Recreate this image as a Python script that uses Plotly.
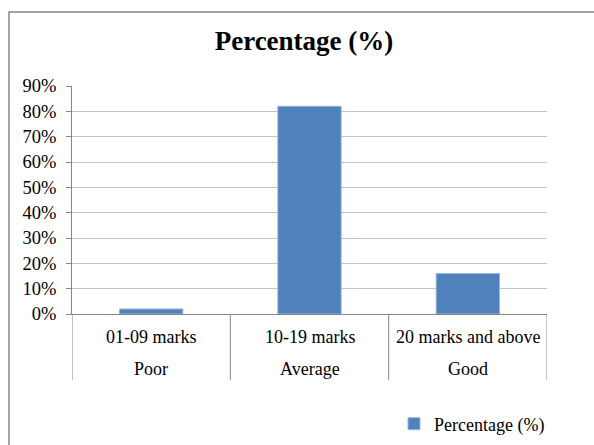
import plotly.graph_objects as go

# Marks distribution data
mark_ranges = ["01-09 marks", "10-19 marks", "20 marks and above"]
grades = ["Poor", "Average", "Good"]
percentages = [0.02, 0.82, 0.16]
series_name = "Percentage (%)"
y_ticks = [0, 0.1, 0.2, 0.3, 0.4, 0.5, 0.6, 0.7, 0.8, 0.9]

SERIF = "Liberation Serif, Times New Roman, serif"
AXIS_GREY = "#868686"
GRID_GREY = "#c4c4c4"

fig = go.Figure()
fig.add_trace(go.Bar(
    x=mark_ranges,
    y=percentages,
    name=series_name,
    width=0.4,
    marker=dict(color="#4F81BD", line=dict(color="#9ab7dc", width=1)),
    showlegend=True,
))

W, H = 594, 445
L, R, T, B = 72, 47, 86, 131
plot_w = W - L - R
plot_h = H - T - B


def px_x(px):
    return (px - L) / plot_w


def px_y(py):
    return (H - B - py) / plot_h


shapes = []
# outer chart-area frame
shapes.append(dict(type="rect", xref="paper", yref="paper",
                   x0=px_x(9), x1=px_x(620), y0=px_y(470), y1=px_y(12),
                   line=dict(color=AXIS_GREY, width=1.5), fillcolor="rgba(0,0,0,0)",
                   layer="below"))
# category dividers running down through both label rows
for i in range(len(mark_ranges) + 1):
    shapes.append(dict(type="line", xref="x", yref="paper",
                       x0=i - 0.5, x1=i - 0.5, y0=0, y1=px_y(380),
                       line=dict(color=AXIS_GREY, width=1)))

annotations = []
for cat, grade in zip(mark_ranges, grades):
    annotations.append(dict(x=cat, xref="x", yref="paper", y=px_y(337),
                            text=cat, showarrow=False, yanchor="middle",
                            font=dict(family=SERIF, size=18, color="black")))
    annotations.append(dict(x=cat, xref="x", yref="paper", y=px_y(369),
                            text=grade, showarrow=False, yanchor="middle",
                            font=dict(family=SERIF, size=18, color="black")))

fig.update_layout(
    width=W, height=H,
    margin=dict(l=L, r=R, t=T, b=B, autoexpand=False),
    paper_bgcolor="white",
    plot_bgcolor="white",
    bargap=0.6,
    title=dict(text="<b>Percentage (%)</b>", x=304 / W, xanchor="center",
               y=1 - 41 / H, yanchor="middle",
               font=dict(family=SERIF, size=27, color="black")),
    xaxis=dict(
        showticklabels=False,
        showline=True, linecolor=AXIS_GREY, linewidth=1,
        ticks="", showgrid=False, zeroline=False,
        range=[-0.5, 2.5],
    ),
    yaxis=dict(
        range=[0, 0.9],
        tickvals=y_ticks,
        tickformat=".0%",
        showline=True, linecolor=AXIS_GREY, linewidth=1,
        ticks="outside", ticklen=5, tickcolor=AXIS_GREY,
        ticklabelstandoff=6,
        showgrid=True, gridcolor=GRID_GREY, gridwidth=1,
        zeroline=False,
        tickfont=dict(family=SERIF, size=18.5, color="black"),
    ),
    legend=dict(
        x=px_x(394), xanchor="left", y=px_y(424), yanchor="middle",
        font=dict(family=SERIF, size=18, color="black"),
        bgcolor="rgba(0,0,0,0)",
    ),
    shapes=shapes,
    annotations=annotations,
)

fig.write_html("out.html")
